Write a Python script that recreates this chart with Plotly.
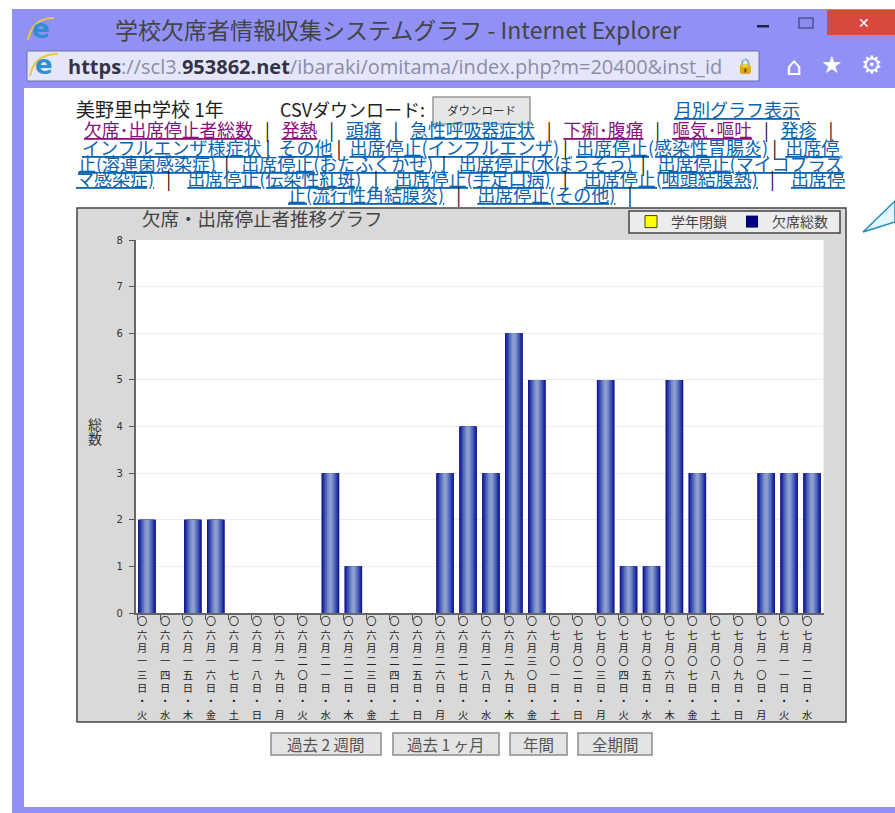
import plotly.graph_objects as go

W, H = 895, 813
JP = "Noto Sans CJK JP"

# ---- data ----
DATE_LABELS = [
    "〇六月一三日・火", "〇六月一四日・水", "〇六月一五日・木", "〇六月一六日・金", "〇六月一七日・土",
    "〇六月一八日・日", "〇六月一九日・月", "〇六月二〇日・火", "〇六月二一日・水", "〇六月二二日・木",
    "〇六月二三日・金", "〇六月二四日・土", "〇六月二五日・日", "〇六月二六日・月", "〇六月二七日・火",
    "〇六月二八日・水", "〇六月二九日・木", "〇六月三〇日・金", "〇七月〇一日・土", "〇七月〇二日・日",
    "〇七月〇三日・月", "〇七月〇四日・火", "〇七月〇五日・水", "〇七月〇六日・木", "〇七月〇七日・金",
    "〇七月〇八日・土", "〇七月〇九日・日", "〇七月一〇日・月", "〇七月一一日・火", "〇七月一二日・水",
]
ABSENT_TOTAL = [2, 0, 2, 2, 0, 0, 0, 0, 3, 1, 0, 0, 0, 3, 4, 3, 6, 5, 0, 0, 5, 1, 1, 5, 3, 0, 0, 3, 3, 3]
GRADE_CLOSED = [None] * 30
Y_TICKS = [0, 1, 2, 3, 4, 5, 6, 7, 8]
BAND_WIDTHS = [0.76, 0.66, 0.54, 0.42, 0.28, 0.14]
BAND_COLORS = ["#14149a", "#2434a2", "#3a50ae", "#566cba", "#7488c6", "#8c9ed0"]

PURPLE, BLUE = "#8a0f7a", "#0a63b0"
LINK_LINES = [
    (129, 459, 4, 17.8, [("欠席･出席停止者総数", PURPLE), ("発熱", PURPLE), ("頭痛", BLUE), ("急性呼吸器症状", BLUE),
                         ("下痢･腹痛", PURPLE), ("嘔気･嘔吐", PURPLE), ("発疹", BLUE), ("", BLUE)]),
    (147, 461, 1, 18, [("インフルエンザ様症状", BLUE), ("その他", BLUE), ("出席停止(インフルエンザ)", BLUE),
                       ("出席停止(感染性胃腸炎)", BLUE), ("出席停", BLUE)]),
    (163, 461, 3, 18, [("止(溶連菌感染症)", BLUE), ("出席停止(おたふくかぜ)", BLUE), ("出席停止(水ぼうそう)", BLUE),
                       ("出席停止(マイコプラズ", BLUE)]),
    (178, 461, 5, 18, [("マ感染症)", BLUE), ("出席停止(伝染性紅斑)", BLUE), ("出席停止(手足口病)", BLUE),
                       ("出席停止(咽頭結膜熱)", BLUE), ("出席停", BLUE)]),
    (194, 460, 5, 18, [("止(流行性角結膜炎)", BLUE), ("出席停止(その他)", BLUE), ("", BLUE)]),
]
BUTTONS = [("過去\u00a02\u00a0週間", 271, 381), ("過去\u00a01\u00a0ヶ月", 393, 499), ("年間", 510, 567), ("全期間", 578, 652)]

# ---- helpers (pixel -> paper) ----
def px(x): return x / W
def py(y): return 1 - y / H

shapes, notes = [], []

def rect(x0, y0, x1, y1, fill, line=None, lw=1):
    shapes.append(dict(type="rect", xref="paper", yref="paper", layer="below",
                       x0=px(x0), x1=px(x1), y0=py(y0), y1=py(y1), fillcolor=fill,
                       line=dict(color=line or fill, width=lw if line else 0)))

def text(x, y, s, size=14, color="#222", anchor="center", font=JP):
    notes.append(dict(xref="paper", yref="paper", x=px(x), y=py(y), text=s, showarrow=False,
                      xanchor=anchor, yanchor="middle", align="center",
                      font=dict(size=size, color=color, family=font)))

def swoosh(cx, cy, rx, ry):
    shapes.append(dict(type="path", xref="paper", yref="paper", layer="below",
                       path=(f"M {px(cx-rx)} {py(cy+ry)} Q {px(cx-rx+4)} {py(cy-ry)} {px(cx+rx)} {py(cy-ry)}"),
                       line=dict(color="#e8c840", width=2)))

# window chrome
rect(12, 9, 895, 813, "#9090f5")
rect(24, 88, 895, 807, "#ffffff")
rect(27, 51, 759, 81, "#e6e6fb", "#6f6fb0", 1)
rect(827, 10, 895, 35, "#d9483f")
rect(799, 18, 813, 28, "#8c8cf0", "#50509c", 1.5)
rect(757, 25, 769, 27.5, "#222244")
text(864, 23, "✕", 14, "#ffffff", font="DejaVu Sans")
swoosh(41, 29, 13, 11)
swoosh(44, 65, 14, 11)
text(41, 29, "<b>e</b>", 26, "#2f8fd0", font="DejaVu Sans")
text(44, 65, "<b>e</b>", 26, "#2f8fd0", font="DejaVu Sans")
text(113, 29, "学校欠席者情報収集システムグラフ - Internet Explorer", 23, "#444444", "left")
text(66, 66, "<b>https</b><span style=\"color:#8c8ca8\">://scl3.</span><b>953862.net</b>"
             "<span style=\"color:#8c8ca8\">/ibaraki/omitama/index.php?m=20400&amp;inst_id</span>",
     20, "#333344", "left", "Open Sans")
text(745, 66, "🔒", 15, "#555566", font="DejaVu Sans")
text(794, 66, "⌂", 25, "#ffffff", font="DejaVu Sans")
text(832, 65, "★", 24, "#ffffff", font="DejaVu Sans")
text(872, 65, "⚙", 24, "#ffffff", font="DejaVu Sans")

# page header
text(74, 109, "美野里中学校 1年", 19, "#222222", "left")
text(278, 109, "CSVダウンロード:", 18, "#222222", "left")
rect(433, 97, 530, 124, "#e6e6e6", "#999999", 1.5)
text(481, 110, "ダウンロード", 11.5, "#333333")
text(737, 109, "<u>月別グラフ表示</u>", 18, BLUE)

for y, cx, gap, size, items in LINK_LINES:
    parts = []
    for label, color in items:
        if label:
            parts.append(f'<span style="color:{color}"><u>{label}</u></span>')
    left = "\u00a0" * (gap // 2)
    right = "\u00a0" * (gap - gap // 2)
    s = f"{left} | {right}".join(parts)
    if items[-1][0] == "":
        s += f"{left} |"
    text(cx, y, s, size, "#111111")

# chart panel
rect(77, 208, 846, 722, "#d9d9d9", "#444444", 1.5)
rect(135.5, 240, 823.5, 613, "#ffffff")
rect(629, 211, 840, 233, "#ececec", "#444444", 1.5)
text(140, 218, "欠席・出席停止者推移グラフ", 18.5, "#444444", "left")
text(95, 424, "総", 14, "#333333")
text(95, 438, "数", 14, "#333333")

# chart buttons
for label, x0, x1 in BUTTONS:
    rect(x0, 733, x1, 755, "#e4e4e4", "#8c8c8c", 1.5)
    text((x0 + x1) / 2, 744, label, 15.5, "#555555")

# speech-bubble tail at right
shapes.append(dict(type="path", xref="paper", yref="paper", layer="below",
                   path=f"M {px(895)} {py(201)} L {px(863)} {py(232)} L {px(895)} {py(222)} Z",
                   fillcolor="#e3f6fb", line=dict(color="#1f8fb5", width=1.5)))

# ---- traces ----
positions = list(range(len(DATE_LABELS)))
fig = go.Figure()
fig.add_trace(go.Bar(x=positions, y=GRADE_CLOSED, name="学年閉鎖", width=0.76,
                     marker=dict(color="#ffff00", line=dict(color="#444400", width=1))))
fig.add_trace(go.Bar(x=positions, y=ABSENT_TOTAL, name="欠席総数", width=BAND_WIDTHS[0],
                     marker=dict(color="#000080", line=dict(width=0))))
for w, c in zip(BAND_WIDTHS, BAND_COLORS):
    fig.add_trace(go.Bar(x=positions, y=ABSENT_TOTAL, width=w, showlegend=False,
                         marker=dict(color=c, line=dict(width=0))))

fig.update_layout(
    width=W, height=H, autosize=False,
    margin=dict(l=0, r=0, t=0, b=0, pad=0, autoexpand=False),
    paper_bgcolor="#ffffff", plot_bgcolor="rgba(0,0,0,0)", barmode="overlay",
    shapes=shapes, annotations=notes, hovermode=False,
    legend=dict(orientation="h", xref="paper", yref="paper", x=px(833), y=py(222),
                xanchor="right", yanchor="middle", bgcolor="rgba(0,0,0,0)", borderwidth=0,
                font=dict(size=14, color="#444444", family=JP),
                itemwidth=30, traceorder="normal"),
    xaxis=dict(domain=[px(135.5), px(823.5)], range=[-0.5, 29.5], anchor="y",
               tickmode="array", tickvals=[p - 0.43 for p in positions],
               ticktext=["<br>".join(s) for s in DATE_LABELS], ticklabelshift=5,
               tickangle=0, ticks="outside", ticklen=5, tickcolor="#555555", tickwidth=1,
               ticklabelstandoff=-7,
               showline=True, linecolor="#666666", linewidth=1.5, showgrid=False, zeroline=False,
               tickfont=dict(size=10.3, color="#222222", family=JP)),
    yaxis=dict(domain=[py(613), py(240)], range=[0, 8], anchor="x",
               tickmode="array", tickvals=Y_TICKS, ticktext=[str(v) for v in Y_TICKS],
               ticks="outside", ticklen=5, tickcolor="#555555", tickwidth=1, ticklabelstandoff=4,
               showline=True, linecolor="#666666", linewidth=1.5,
               showgrid=True, gridcolor="#eeeeee", gridwidth=1, zeroline=False,
               tickfont=dict(size=10, color="#333333", family="DejaVu Sans")),
)
fig.write_html("out.html", config=dict(displayModeBar=False),
               post_script="document.body.style.margin='0';document.body.style.overflow='hidden';")
